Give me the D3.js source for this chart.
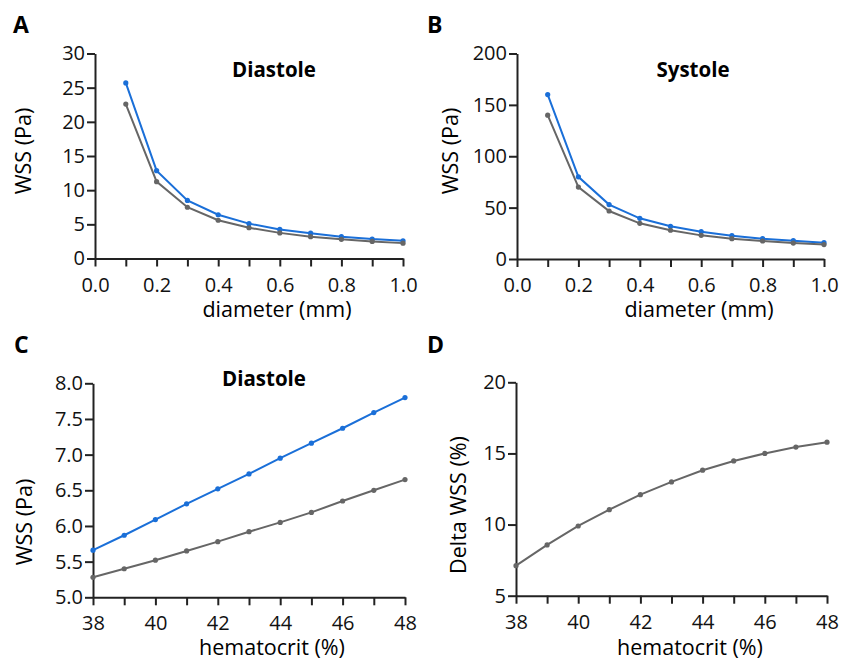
<!DOCTYPE html>
<meta charset="utf-8">
<style>
body{
  margin: 0px;
  background: white;
  font-family: "Open Sans", sans-serif;
}
.tick text{ font-family: "Open Sans", sans-serif; font-size: 20px; fill: #111; }
.domain, .tick line{ stroke: #222; stroke-width: 2px; }
</style>
<body>
<script src="https://cdn.jsdelivr.net/npm/d3@7"></script>
<script>

var diameter = [0.1, 0.2, 0.3, 0.4, 0.5, 0.6, 0.7, 0.8, 0.9, 1.0]
var diaBlue  = [25.7, 12.85, 8.5, 6.4, 5.1, 4.25, 3.7, 3.2, 2.85, 2.6]
var diaGray  = [22.6, 11.25, 7.5, 5.6, 4.5, 3.75, 3.2, 2.8, 2.5, 2.25]
var sysBlue  = [160, 80, 53, 39.6, 31.8, 26.6, 22.7, 19.8, 17.8, 15.9]
var sysGray  = [140, 70, 46.7, 34.7, 28, 23, 19.8, 17.5, 15.5, 14]

var hematocrit = [38, 39, 40, 41, 42, 43, 44, 45, 46, 47, 48]
var hctBlue  = [5.66, 5.87, 6.09, 6.31, 6.52, 6.73, 6.95, 7.16, 7.37, 7.59, 7.8]
var hctGray  = [5.28, 5.40, 5.52, 5.65, 5.78, 5.92, 6.05, 6.19, 6.35, 6.50, 6.65]
var deltaWss = [7.11, 8.57, 9.9, 11.05, 12.1, 13.0, 13.82, 14.47, 15.0, 15.45, 15.79]

var diaTicksX = [0, 0.1, 0.2, 0.3, 0.4, 0.5, 0.6, 0.7, 0.8, 0.9, 1.0]
var hctTicksX = [38, 39, 40, 41, 42, 43, 44, 45, 46, 47, 48]

var blue = '#1a6fd8', gray = '#666'

var svg = d3.select('body').append('svg')
    .attr('width', 846).attr('height', 660)

function panel(p){
  var x = d3.scaleLinear().domain(p.xDomain).range([p.left, p.right])
  var y = d3.scaleLinear().domain(p.yDomain).range([p.bottom, p.top])
  var g = svg.append('g')

  g.append('g')
      .attr('transform', 'translate(0,' + p.bottom + ')')
      .call(d3.axisBottom(x).tickValues(p.xTicks).tickSize(8).tickPadding(11).tickSizeOuter(0)
        .tickFormat(function(d, i){ return i % 2 ? '' : p.xFmt(d) }))

  g.append('g')
      .attr('transform', 'translate(' + p.left + ',0)')
      .call(d3.axisLeft(y).tickValues(p.yTicks).tickSize(8).tickPadding(2).tickSizeOuter(0)
        .tickFormat(p.yFmt))

  p.series.forEach(function(s){
    var pts = p.xs.map(function(d, i){ return [d, s.values[i]] })
    g.append('path')
        .attr('d', d3.line().x(function(d){ return x(d[0]) }).y(function(d){ return y(d[1]) })(pts))
        .style('fill', 'none').style('stroke', s.color).style('stroke-width', 2)
    g.selectAll(null).data(pts).enter().append('circle')
        .attr('cx', function(d){ return x(d[0]) })
        .attr('cy', function(d){ return y(d[1]) })
        .attr('r', 2.6)
        .style('fill', s.color)
  })

  g.append('text').text(p.letter[0])
      .attr('x', p.letter[1]).attr('y', p.letter[2])
      .style('font-size', '23px').style('font-weight', 'bold')
  g.append('text').text(p.xLabel[0])
      .attr('x', p.xLabel[1]).attr('y', p.xLabel[2])
      .style('font-size', '21.5px').style('text-anchor', 'middle')
  g.append('text').text(p.yLabel[0])
      .attr('transform', 'translate(' + p.yLabel[1] + ',' + p.yLabel[2] + ') rotate(-90)')
      .style('font-size', '21.5px').style('text-anchor', 'middle')
  if (p.heading) g.append('text').text(p.heading[0])
      .attr('x', p.heading[1]).attr('y', p.heading[2])
      .style('font-size', '20.5px').style('font-weight', 'bold').style('text-anchor', 'middle')
}

var f1 = d3.format('.1f'), f0 = d3.format('d')

panel({left: 95, right: 403, top: 53.5, bottom: 258.5,
  xDomain: [0, 1], yDomain: [0, 30], xTicks: diaTicksX, yTicks: [0, 5, 10, 15, 20, 25, 30],
  xFmt: f1, yFmt: f0, xs: diameter,
  series: [{values: diaBlue, color: blue}, {values: diaGray, color: gray}],
  letter: ['A', 13, 33], heading: ['Diastole', 274, 77],
  xLabel: ['diameter (mm)', 277, 317], yLabel: ['WSS (Pa)', 31, 151]})

panel({left: 517, right: 824, top: 53.5, bottom: 259,
  xDomain: [0, 1], yDomain: [0, 200], xTicks: diaTicksX, yTicks: [0, 50, 100, 150, 200],
  xFmt: f1, yFmt: f0, xs: diameter,
  series: [{values: sysBlue, color: blue}, {values: sysGray, color: gray}],
  letter: ['B', 427, 33], heading: ['Systole', 693, 77],
  xLabel: ['diameter (mm)', 699, 317], yLabel: ['WSS (Pa)', 458, 151]})

panel({left: 93, right: 405, top: 383.3, bottom: 597.3,
  xDomain: [38, 48], yDomain: [5, 8], xTicks: hctTicksX, yTicks: [5, 5.5, 6, 6.5, 7, 7.5, 8],
  xFmt: f0, yFmt: f1, xs: hematocrit,
  series: [{values: hctBlue, color: blue}, {values: hctGray, color: gray}],
  letter: ['C', 14, 353], heading: ['Diastole', 264, 386],
  xLabel: ['hematocrit (%)', 272, 655], yLabel: ['WSS (Pa)', 32, 522]})

panel({left: 516, right: 827, top: 382.3, bottom: 595.7,
  xDomain: [38, 48], yDomain: [5, 20], xTicks: hctTicksX, yTicks: [5, 10, 15, 20],
  xFmt: f0, yFmt: f0, xs: hematocrit,
  series: [{values: deltaWss, color: gray}],
  letter: ['D', 427, 353],
  xLabel: ['hematocrit (%)', 690, 655], yLabel: ['Delta WSS (%)', 466, 505]})

</script>
